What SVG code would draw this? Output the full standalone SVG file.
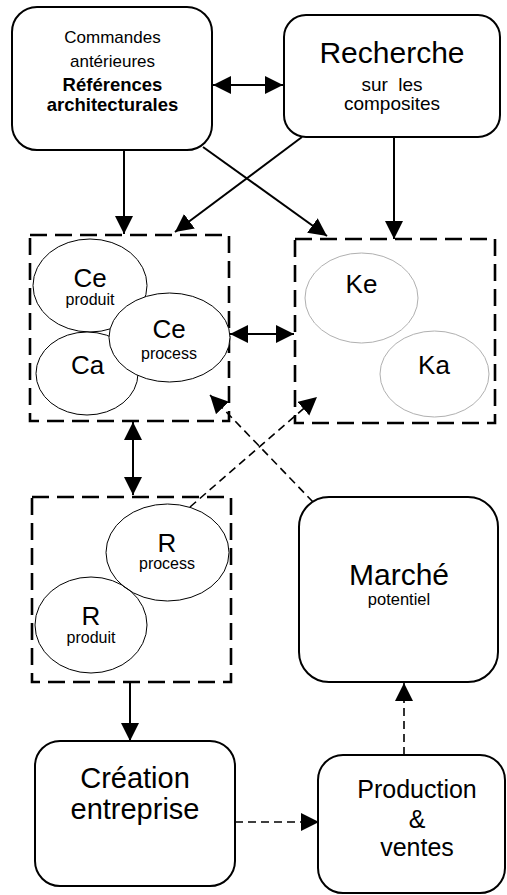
<svg xmlns="http://www.w3.org/2000/svg" width="507" height="895" viewBox="0 0 507 895">
<style>
text{font-family:"Liberation Sans",Arial,sans-serif;fill:#000;text-anchor:middle}
.box{fill:#fff;stroke:#000;stroke-width:2}
.dbox{fill:none;stroke:#000;stroke-width:2.6;stroke-dasharray:17 8}
.ell{fill:#fff;stroke:#000;stroke-width:1}
.gell{fill:#fff;stroke:#b0b0b0;stroke-width:1}
.ln{fill:none;stroke:#000;stroke-width:2}
.dl{fill:none;stroke:#000;stroke-width:1.6;stroke-dasharray:8 5}
.big{font-size:30px}
.mid{font-size:26px}
.sm{font-size:16px}
</style>
<defs>
<marker id="ah" markerUnits="userSpaceOnUse" markerWidth="19" markerHeight="19" refX="18" refY="9" orient="auto-start-reverse" viewBox="0 0 19 19">
<path d="M0,0 L18,9 L0,18 Z" fill="#000"/>
</marker>
</defs>
<g id="connectors">
<line class="ln" x1="213" y1="85" x2="283" y2="85" marker-start="url(#ah)" marker-end="url(#ah)"/>
<line class="ln" x1="124" y1="146" x2="124" y2="234" marker-end="url(#ah)"/>
<line class="ln" x1="203" y1="147" x2="327" y2="236" marker-end="url(#ah)"/>
<line class="ln" x1="302" y1="137" x2="175" y2="232" marker-end="url(#ah)"/>
<line class="ln" x1="394" y1="136" x2="394" y2="239" marker-end="url(#ah)"/>
<line class="ln" x1="230" y1="334" x2="294" y2="334" marker-start="url(#ah)" marker-end="url(#ah)"/>
<line class="ln" x1="133" y1="422" x2="133" y2="495" marker-start="url(#ah)" marker-end="url(#ah)"/>
<line class="dl" x1="313" y1="502" x2="210" y2="395" marker-end="url(#ah)"/>
<line class="dl" x1="190" y1="507" x2="317" y2="397" marker-end="url(#ah)"/>
<line class="ln" x1="130" y1="682" x2="130" y2="741" marker-end="url(#ah)"/>
<line class="dl" x1="235" y1="822" x2="319" y2="822" marker-end="url(#ah)"/>
<line class="dl" x1="404" y1="755" x2="404" y2="683" marker-end="url(#ah)"/>
</g>
<g id="commandes">
<rect class="box" x="12" y="7" width="200" height="143" rx="25"/>
<text x="112.5" y="43" style="font-size:17px">Commandes</text>
<text x="112.5" y="66.5" style="font-size:17px">antérieures</text>
<text x="112.5" y="90.5" style="font-size:18.5px;font-weight:bold">Références</text>
<text x="112.5" y="111" style="font-size:18.5px;font-weight:bold">architecturales</text>
</g>
<g id="recherche">
<rect class="box" x="284" y="15" width="216" height="122" rx="22"/>
<text class="big" x="392" y="62.5">Recherche</text>
<text x="392" y="91" style="font-size:19px" xml:space="preserve">sur  les</text>
<text x="392" y="110" style="font-size:19px">composites</text>
</g>
<g id="groupe-c">
<rect class="dbox" x="30" y="235" width="199" height="186"/>
<ellipse class="ell" cx="90" cy="285.5" rx="57" ry="46.5"/>
<ellipse class="ell" cx="87" cy="373.5" rx="51" ry="41.5"/>
<ellipse class="ell" cx="169.5" cy="337.5" rx="60.5" ry="44.5"/>
<text class="mid" x="90" y="286.5">Ce</text>
<text class="sm" x="90" y="305">produit</text>
<text class="mid" x="87.5" y="374">Ca</text>
<text class="mid" x="169" y="338">Ce</text>
<text class="sm" x="169" y="359">process</text>
</g>
<g id="groupe-k">
<rect class="dbox" x="295" y="239" width="200" height="184"/>
<ellipse class="gell" cx="361.5" cy="298" rx="56.5" ry="45"/>
<ellipse class="gell" cx="434.5" cy="374" rx="54.5" ry="43"/>
<text class="mid" x="361.5" y="293">Ke</text>
<text class="mid" x="434" y="374">Ka</text>
</g>
<g id="groupe-r">
<rect class="dbox" x="32" y="497" width="199" height="185"/>
<ellipse class="ell" cx="91" cy="625" rx="56" ry="48"/>
<ellipse class="ell" cx="167.5" cy="552.5" rx="61.5" ry="48.5" style="fill:none"/>
<text class="mid" x="167" y="551.5">R</text>
<text class="sm" x="167" y="569">process</text>
<text class="mid" x="91" y="625">R</text>
<text class="sm" x="91" y="643">produit</text>
</g>
<g id="marche">
<rect class="box" x="299" y="497" width="199" height="185" rx="30"/>
<text class="big" x="399" y="585">Marché</text>
<text x="399" y="605" style="font-size:16.5px">potentiel</text>
</g>
<g id="creation">
<rect class="box" x="35" y="741" width="200" height="145" rx="25"/>
<text x="135" y="788" style="font-size:29px">Création</text>
<text x="135" y="819" style="font-size:29px">entreprise</text>
</g>
<g id="production">
<rect class="box" x="318" y="755" width="187" height="138" rx="25"/>
<text x="417" y="798" style="font-size:25px">Production</text>
<text x="417" y="828" style="font-size:25px">&amp;</text>
<text x="417" y="856" style="font-size:25px">ventes</text>
</g>
</svg>
